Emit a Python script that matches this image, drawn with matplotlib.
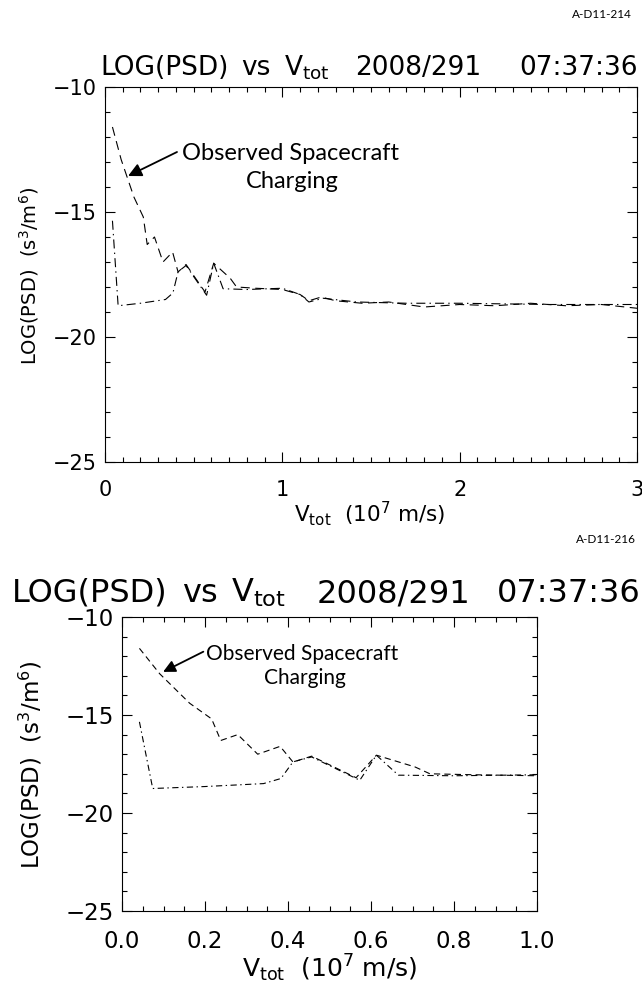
import matplotlib
matplotlib.use('Agg')
import matplotlib.pyplot as plt
from matplotlib.ticker import MultipleLocator


# speed in 1e7 m/s and log10 of phase space density
v_dash = [0.042, 0.091, 0.163, 0.216, 0.238, 0.279, 0.327, 0.381, 0.412, 0.457,
          0.564, 0.613, 0.706, 0.742, 0.85, 1.0, 1.1, 1.15, 1.22, 1.3,
          1.45, 1.6, 1.8, 2.0, 2.2, 2.4, 2.6, 2.8, 3.0]
psd_dash = [-11.6, -12.9, -14.4, -15.2, -16.3, -16.0, -17.0, -16.6, -17.4, -17.1,
            -18.2, -17.05, -17.65, -18.0, -18.05, -18.1, -18.3, -18.55, -18.4, -18.55,
            -18.65, -18.6, -18.8, -18.7, -18.75, -18.65, -18.75, -18.7, -18.85]

v_dashdot = [0.042, 0.074, 0.20, 0.341, 0.383, 0.412, 0.457, 0.573, 0.613, 0.666,
             0.8, 1.0, 1.1, 1.15, 1.23, 1.42, 1.7, 2.0, 2.5, 3.0]
psd_dashdot = [-15.35, -18.75, -18.65, -18.5, -18.24, -17.39, -17.14, -18.33, -17.05, -18.07,
               -18.1, -18.05, -18.3, -18.6, -18.45, -18.6, -18.65, -18.65, -18.7, -18.7]

# IDL-style title, written in separate words
title_words = ['LOG(PSD)', 'vs', 'V$_{tot}$', '2008/291', '07:37:36']
xlab = 'V$_{tot}$  (10$^{7}$ m/s)'
ylab = 'LOG(PSD)  (s$^{3}$/m$^{6}$)'
note1 = 'Observed Spacecraft'
note2 = 'Charging'

plt.rcParams['mathtext.default'] = 'regular'
plt.rcParams['font.family'] = 'DejaVu Sans'
plt.rcParams['lines.scale_dashes'] = False

W, H = 642, 990


def fx(px):
    return px / W


def fy(py):
    return 1 - py / H


def panel(rect, xmax, xmaj, xmin, dash, dashdot, tsize, pad):
    ax = fig.add_axes(rect)
    ax.plot(v_dash, psd_dash, color='k', lw=0.8, dashes=dash)
    ax.plot(v_dashdot, psd_dashdot, color='k', lw=0.8, dashes=dashdot)
    ax.set_xlim(0, xmax)
    ax.set_ylim(-25, -10)
    ax.xaxis.set_major_locator(MultipleLocator(xmaj))
    ax.xaxis.set_minor_locator(MultipleLocator(xmin))
    ax.yaxis.set_major_locator(MultipleLocator(5))
    ax.yaxis.set_minor_locator(MultipleLocator(1))
    ax.tick_params(which='both', direction='in', top=True, right=True, width=0.8)
    ax.tick_params(which='major', length=7)
    ax.tick_params(which='minor', length=3.5)
    ax.tick_params(axis='both', labelsize=tsize)
    ax.tick_params(axis='y', pad=6)
    ax.tick_params(axis='x', pad=pad)
    for s in ax.spines.values():
        s.set_linewidth(0.8)
    return ax


def put_title(left, right, gaps, base, size):
    # words laid out left to right with fixed pixel gaps, time flush right
    renderer = fig.canvas.get_renderer()
    x = left
    for w, g in zip(title_words[:-1], gaps + [0]):
        t = fig.text(fx(x), fy(base), w, ha='left', va='baseline', size=size)
        x = t.get_window_extent(renderer).x1 + g
    fig.text(fx(right), fy(base), title_words[-1], ha='right', va='baseline', size=size)


fig = plt.figure(figsize=(W / 100, H / 100), dpi=100)

# top panel: full speed range
ax1 = panel([fx(105), fy(462), (637 - 105) / W, (462 - 87) / H], 3, 1, 0.1,
            (6.5, 4), (6.5, 3, 1, 3), 15, 13)
put_title(100, 638, [13, 13, 26], 75, 19)
fig.text(fx(370), fy(522), xlab, ha='center', va='baseline', size=15.5)
fig.text(fx(29), fy(276), ylab, ha='center', va='center', rotation=90, size=14)
fig.text(fx(632), fy(18), 'A-D11-214', ha='right', va='baseline', size=8.5, family='Lato')
fig.text(fx(290), fy(160), note1, ha='center', va='baseline', size=17, family='Lato')
fig.text(fx(292), fy(188), note2, ha='center', va='baseline', size=17, family='Lato')
ax1.annotate('', xy=(0.13, -13.56), xytext=(0.406, -12.6),
             arrowprops=dict(arrowstyle='-|>', color='k', lw=1.3, mutation_scale=20,
                             shrinkA=0, shrinkB=0))

# bottom panel: zoom on low speeds
ax2 = panel([fx(122), fy(911), 415 / W, (911 - 617) / H], 1.0, 0.2, 0.05,
            (4.5, 3), (4.5, 2.5, 1, 2.5), 16.5, 14)
put_title(12, 641, [14, 14, 30], 602, 23)
fig.text(fx(330), fy(977), xlab, ha='center', va='baseline', size=18)
fig.text(fx(31), fy(765), ylab, ha='center', va='center', rotation=90, size=16.5)
fig.text(fx(636), fy(543), 'A-D11-216', ha='right', va='baseline', size=8.5, family='Lato')
fig.text(fx(302), fy(660), note1, ha='center', va='baseline', size=15, family='Lato')
fig.text(fx(305), fy(684), note2, ha='center', va='baseline', size=15, family='Lato')
ax2.annotate('', xy=(0.099, -12.8), xytext=(0.196, -11.77),
             arrowprops=dict(arrowstyle='-|>', color='k', lw=1.3, mutation_scale=18,
                             shrinkA=0, shrinkB=0))

fig.savefig('out.png', dpi=100)
